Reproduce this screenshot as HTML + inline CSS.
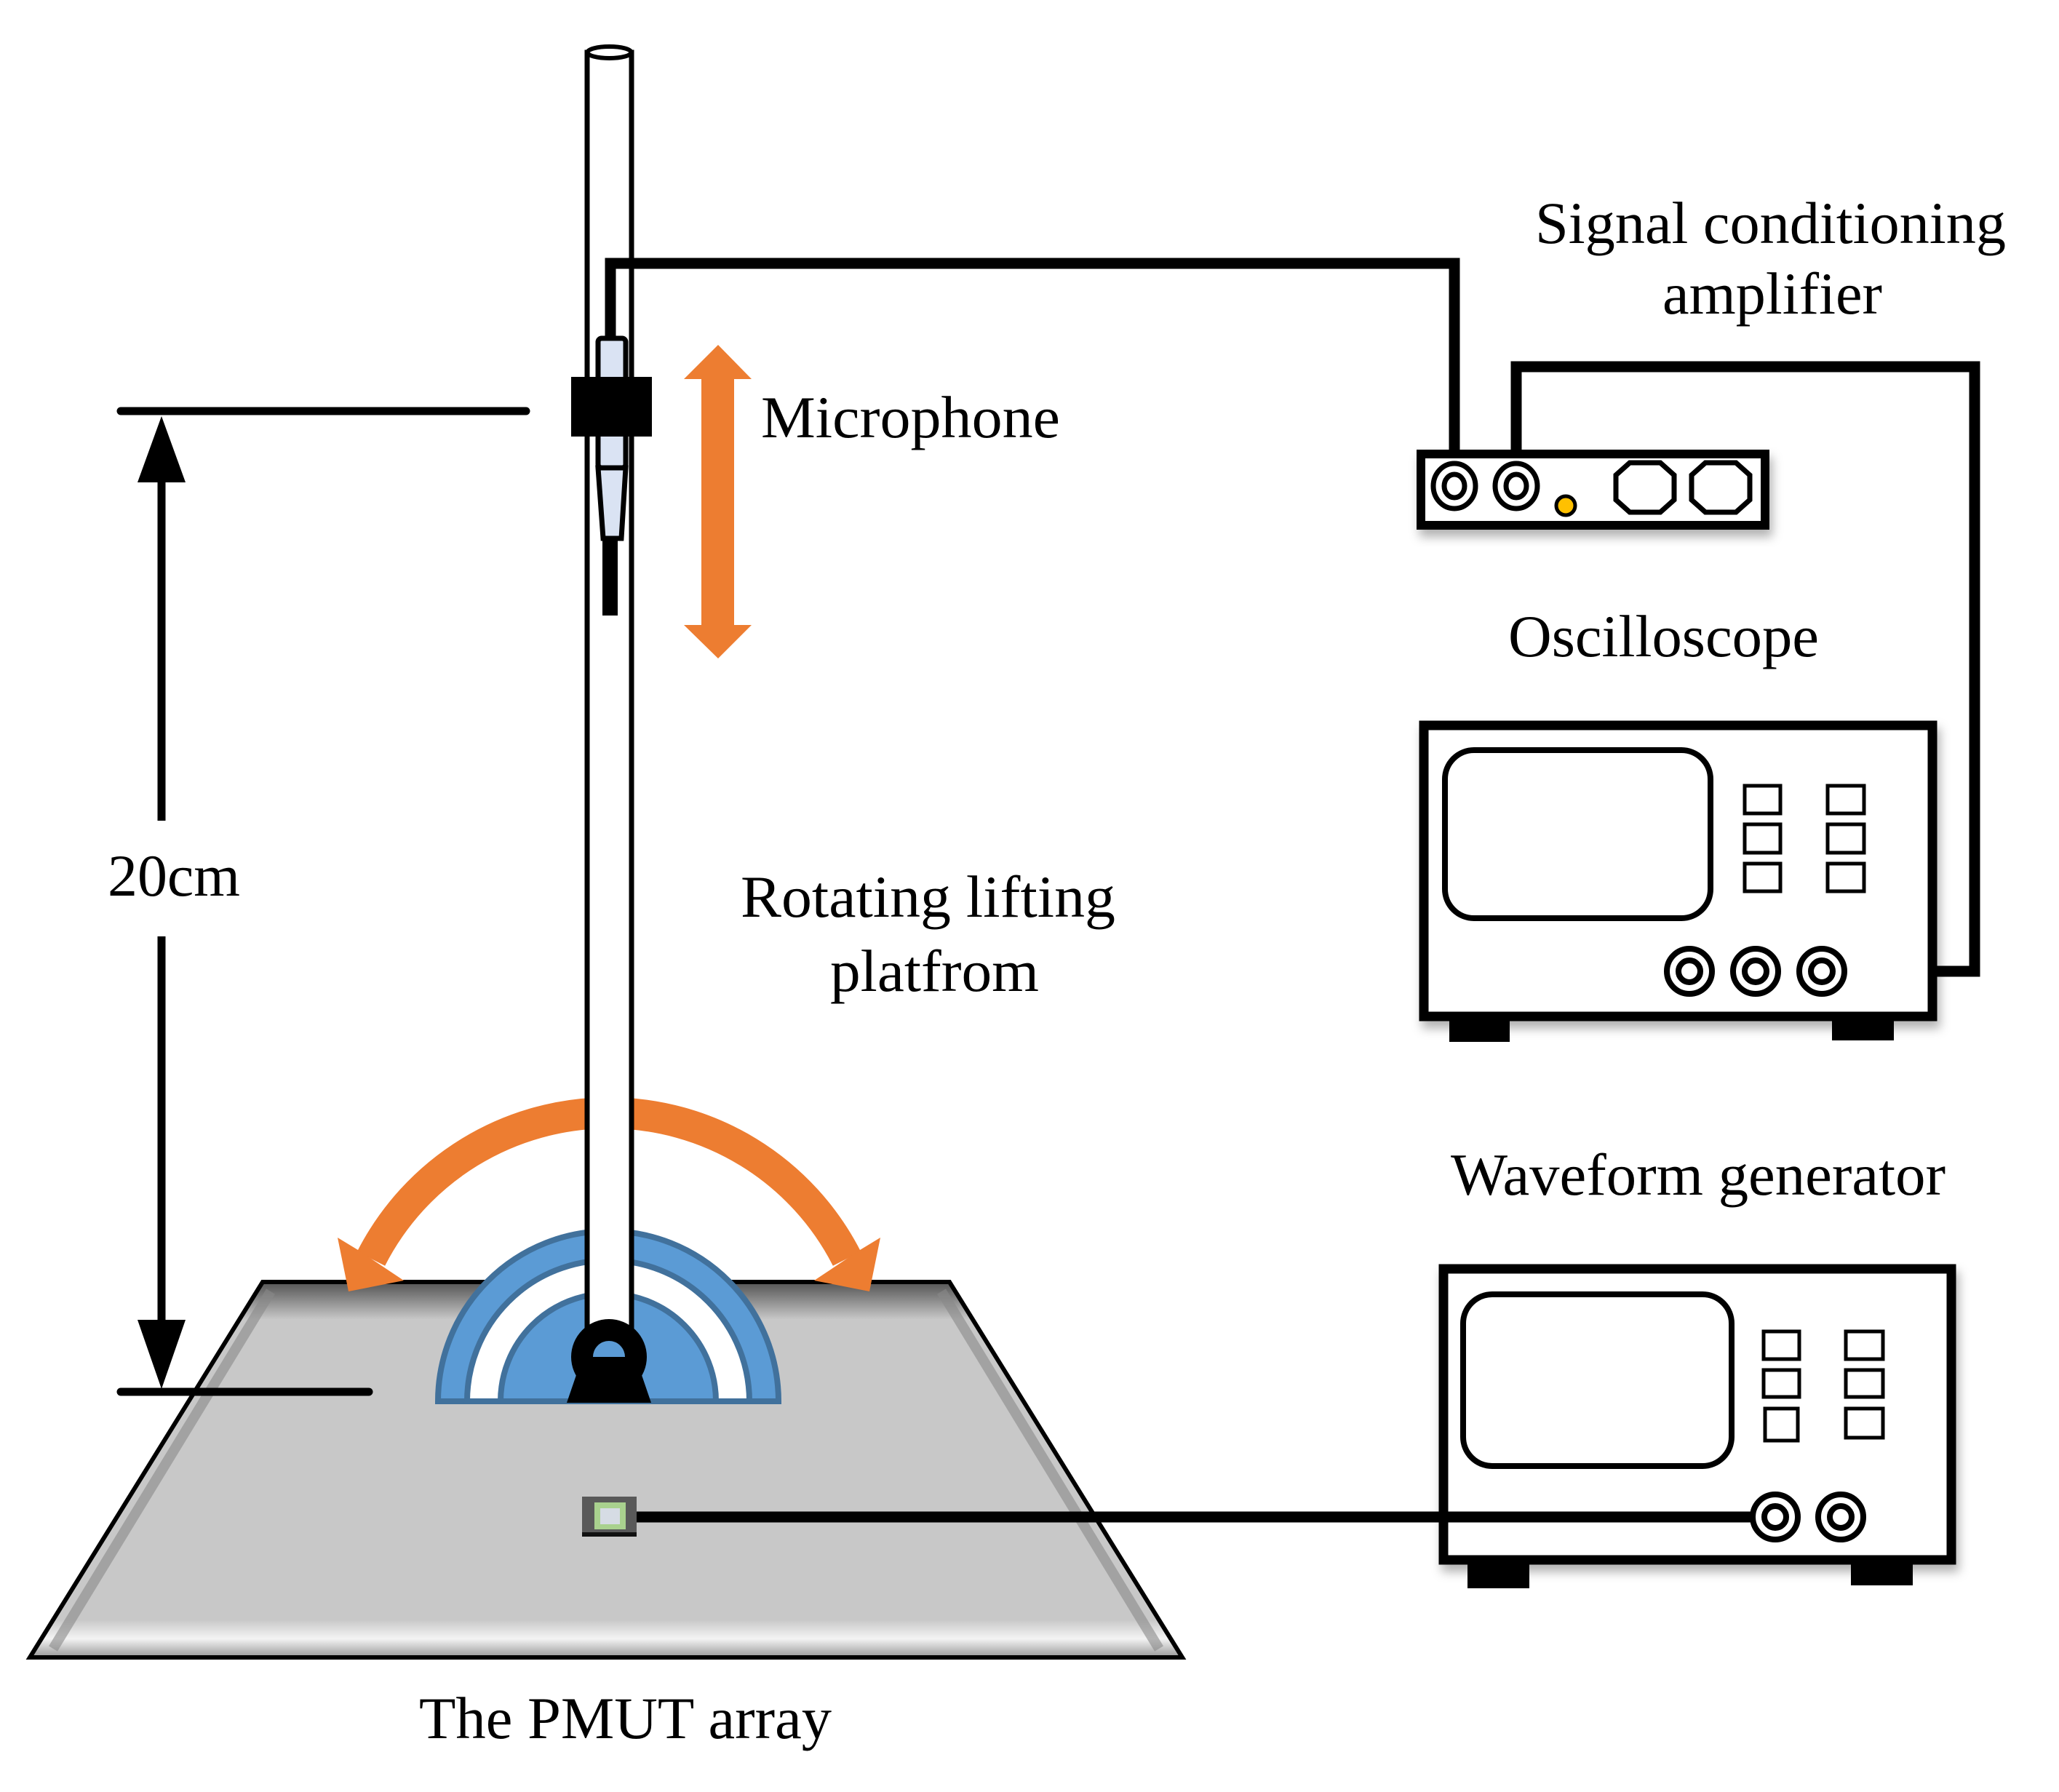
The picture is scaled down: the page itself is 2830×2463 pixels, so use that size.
<!DOCTYPE html>
<html><head><meta charset="utf-8"><style>html,body{margin:0;padding:0;background:#fff}svg{display:block}text{font-family:"Liberation Serif",serif;fill:#000;font-size:82px}</style></head>
<body>
<svg width="2830" height="2463" viewBox="0 0 2830 2463" xmlns="http://www.w3.org/2000/svg">
<defs>
<filter id="sh" x="-10%" y="-10%" width="130%" height="140%"><feDropShadow dx="4" dy="10" stdDeviation="7" flood-color="#000" flood-opacity="0.3"/></filter>
<linearGradient id="pg" x1="0" y1="1762" x2="0" y2="2278" gradientUnits="userSpaceOnUse"><stop offset="0" stop-color="#555"/><stop offset="0.02" stop-color="#6a6a6a"/><stop offset="0.1" stop-color="#c8c8c8"/><stop offset="0.9" stop-color="#c8c8c8"/><stop offset="0.95" stop-color="#f4f4f4"/><stop offset="0.98" stop-color="#bdbdbd"/><stop offset="1" stop-color="#999"/></linearGradient>
</defs>
<!-- platform -->
<polygon points="361,1762 1305,1762 1625,2278 41,2278" fill="url(#pg)"/>
<polyline points="372,1775 73,2266" fill="none" stroke="#888" stroke-width="14" opacity="0.6"/>
<polyline points="1294,1775 1593,2266" fill="none" stroke="#888" stroke-width="14" opacity="0.6"/>
<polygon points="361,1762 1305,1762 1625,2278 41,2278" fill="none" stroke="#000" stroke-width="6"/>
<!-- dimension -->
<g stroke="#000" stroke-width="11" stroke-linecap="round">
<line x1="166" y1="565" x2="723" y2="565"/>
<line x1="166" y1="1913" x2="507" y2="1913"/>
</g>
<g stroke="#000" stroke-width="11">
<line x1="222" y1="655" x2="222" y2="1128"/>
<line x1="222" y1="1287" x2="222" y2="1820"/>
</g>
<polygon points="222,572 189,663 255,663"/>
<polygon points="222,1909 189,1814 255,1814"/>
<text x="148" y="1231" textLength="182" lengthAdjust="spacingAndGlyphs">20cm</text>
<!-- orange arc -->
<path d="M510,1730 A367,367 0 0 1 1164,1730" fill="none" stroke="#ed7d31" stroke-width="43"/>
<polygon points="464,1701 479,1775 555,1760 528,1742 492,1718" fill="#ed7d31"/>
<polygon points="1210,1701 1195,1775 1119,1760 1146,1742 1182,1718" fill="#ed7d31"/>
<!-- semicircle -->
<path d="M602,1926 A234,234 0 0 1 1070,1926 Z" fill="#5b9bd5" stroke="#41719c" stroke-width="8"/>
<path d="M642,1926 A194,194 0 0 1 1030,1926 Z" fill="#fff" stroke="#41719c" stroke-width="8"/>
<path d="M688,1926 A148,148 0 0 1 984,1926 Z" fill="#5b9bd5" stroke="#41719c" stroke-width="8"/>
<!-- rod -->
<rect x="807" y="72" width="61" height="1800" fill="#fff" stroke="#000" stroke-width="7"/>
<ellipse cx="837.5" cy="72" rx="30" ry="8" fill="#fff" stroke="#000" stroke-width="6"/>
<!-- keyhole -->
<circle cx="837" cy="1865" r="52"/>
<polygon points="792,1890 882,1890 895,1928 779,1928"/>
<path d="M815,1865 A22,22 0 0 1 859,1865 Z" fill="#5b9bd5"/>
<!-- cable mic -->
<polyline points="839,470 839,362 1999,362 1999,640" fill="none" stroke="#000" stroke-width="15"/>
<!-- microphone -->
<rect x="822" y="465" width="38" height="178" rx="5" fill="#dae3f3" stroke="#000" stroke-width="7"/>
<polygon points="822,643 860,643 854,740 829,740" fill="#dae3f3" stroke="#000" stroke-width="7"/>
<rect x="828" y="740" width="21" height="106"/>
<rect x="785" y="518" width="111" height="82"/>
<!-- orange vertical arrow -->
<polygon points="987,474 1033,521 1009,521 1009,859 1033,859 987,905 940,859 964,859 964,521 940,521" fill="#ed7d31"/>
<text x="1046" y="601" textLength="411" lengthAdjust="spacingAndGlyphs">Microphone</text>
<text x="1018" y="1260" textLength="515" lengthAdjust="spacingAndGlyphs">Rotating lifting</text>
<text x="1141" y="1362" textLength="287" lengthAdjust="spacingAndGlyphs">platfrom</text>
<!-- PMUT chip -->
<rect x="800" y="2057" width="75" height="55" fill="#595959"/>
<rect x="800" y="2106" width="75" height="6" fill="#111"/>
<rect x="817" y="2065" width="43" height="37" fill="#a9d18e"/>
<rect x="825" y="2073" width="27" height="22" fill="#d6dce4"/>
<line x1="875" y1="2085" x2="2440" y2="2085" stroke="#000" stroke-width="15"/>
<text x="576" y="2389" textLength="567" lengthAdjust="spacingAndGlyphs">The PMUT array</text>
<!-- amplifier -->
<text x="2110" y="334" textLength="647" lengthAdjust="spacingAndGlyphs">Signal conditioning</text>
<text x="2285" y="431" textLength="302" lengthAdjust="spacingAndGlyphs">amplifier</text>
<polyline points="2084,640 2084,504 2714,504 2714,1335 2504,1335" fill="none" stroke="#000" stroke-width="15"/>
<rect x="1953" y="624" width="473" height="98" fill="#fff" stroke="#000" stroke-width="12" filter="url(#sh)"/>
<g fill="#fff" stroke="#000" stroke-width="7">
<ellipse cx="1999" cy="668" rx="29" ry="31"/><ellipse cx="1999" cy="668" rx="14" ry="16"/>
<ellipse cx="2084" cy="668" rx="29" ry="31"/><ellipse cx="2084" cy="668" rx="14" ry="16"/>
<polygon points="2240,636 2282,636 2301,653 2301,687 2282,704 2240,704 2221,687 2221,653"/>
<polygon points="2344,636 2386,636 2405,653 2405,687 2386,704 2344,704 2325,687 2325,653"/>
</g>
<circle cx="2152" cy="695" r="13" fill="#ffc000" stroke="#000" stroke-width="5"/>
<!-- oscilloscope -->
<text x="2073" y="902" textLength="427" lengthAdjust="spacingAndGlyphs">Oscilloscope</text>
<rect x="1992" y="1395" width="83" height="37"/><rect x="2518" y="1395" width="85" height="35"/>
<rect x="1957" y="997" width="699" height="400" fill="#fff" stroke="#000" stroke-width="13" filter="url(#sh)"/>
<rect x="1986" y="1031" width="365" height="231" rx="40" fill="#fff" stroke="#000" stroke-width="8"/>
<g fill="#fff" stroke="#000" stroke-width="5">
<rect x="2398" y="1080" width="49" height="38"/><rect x="2398" y="1133" width="49" height="39"/><rect x="2398" y="1187" width="49" height="38"/>
<rect x="2512" y="1080" width="50" height="38"/><rect x="2512" y="1133" width="50" height="39"/><rect x="2512" y="1187" width="50" height="38"/>
</g>
<g fill="#fff" stroke="#000" stroke-width="8">
<circle cx="2322" cy="1335" r="31"/><circle cx="2322" cy="1335" r="15"/>
<circle cx="2413" cy="1335" r="31"/><circle cx="2413" cy="1335" r="15"/>
<circle cx="2504" cy="1335" r="31"/><circle cx="2504" cy="1335" r="15"/>
</g>
<!-- waveform generator -->
<text x="1994" y="1642" textLength="680" lengthAdjust="spacingAndGlyphs">Waveform generator</text>
<rect x="2017" y="2148" width="85" height="35"/><rect x="2544" y="2148" width="85" height="31"/>
<rect x="1984" y="1744" width="698" height="400" fill="#fff" stroke="#000" stroke-width="13" filter="url(#sh)"/>
<rect x="2011" y="1779" width="369" height="236" rx="40" fill="#fff" stroke="#000" stroke-width="8"/>
<g fill="#fff" stroke="#000" stroke-width="5">
<rect x="2424" y="1830" width="49" height="38"/><rect x="2424" y="1883" width="49" height="37"/><rect x="2426" y="1936" width="45" height="44"/>
<rect x="2537" y="1830" width="51" height="38"/><rect x="2537" y="1883" width="51" height="37"/><rect x="2537" y="1936" width="51" height="40"/>
</g>
<g fill="#fff" stroke="#000" stroke-width="8">
<circle cx="2440" cy="2085" r="31"/><circle cx="2440" cy="2085" r="15"/>
<circle cx="2530" cy="2085" r="31"/><circle cx="2530" cy="2085" r="15"/>
</g>
<line x1="1980" y1="2085" x2="2409" y2="2085" stroke="#000" stroke-width="15"/>
</svg>
</body></html>
